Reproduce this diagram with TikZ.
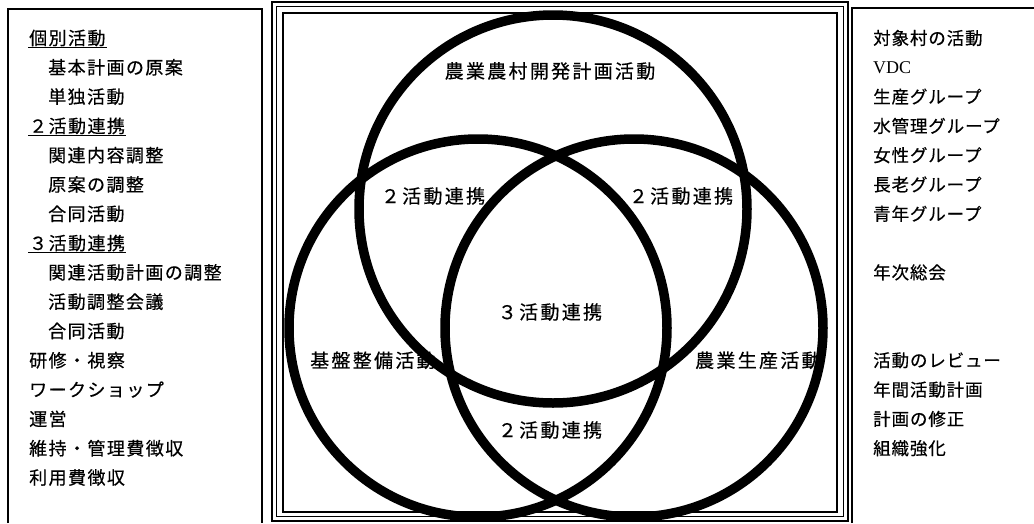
\documentclass[tikz,border=0pt]{standalone}
\usepackage{fontspec}
\setmainfont{Liberation Serif}
\newfontfamily\jpleft[LetterSpace=8,FakeBold=0.5]{Noto Sans CJK JP}
\newfontfamily\jpmid[LetterSpace=12,FakeBold=0.5]{Noto Sans CJK JP}
\newfontfamily\jpright[LetterSpace=5,FakeBold=0.5]{Noto Sans CJK JP}

\begin{document}
\begin{tikzpicture}[x=1pt, y=-1pt,
    item/.style={anchor=west, inner sep=1pt, font=\jpleft\fontsize{18}{18}\selectfont},
    grp/.style={anchor=west, inner sep=1pt, font=\jpright\fontsize{17.5}{18}\selectfont},
    area/.style={inner sep=1pt, font=\jpmid\fontsize{19}{19}\selectfont},
    ring/.style={line width=9.5pt, black},
    uline/.style={line width=1.4pt}]
    \useasboundingbox (0,0) rectangle (1034,523);

    % Marcos
    \draw[line width=1.3pt] (8,523) -- (8,9) -- (262,9) -- (262,523);
    \draw[line width=2.5pt] (272,2) rectangle (848,521);
    \draw[line width=1.2pt] (276.5,6.5) rectangle (843.5,516.5);
    \draw[line width=1.2pt] (283,13) rectangle (837,512);
    \draw[line width=1.3pt] (852,523) -- (852,8) -- (1034,8);

    % Lista izquierda
    \node[item] (L_ind) at (28,38) {個別活動};
    \node[item] (L_plan) at (47,67.3) {基本計画の原案};
    \node[item] (L_solo) at (47,96.6) {単独活動};
    \node[item] (L_two) at (28,125.9) {２活動連携};
    \node[item] (L_adj) at (47,155.2) {関連内容調整};
    \node[item] (L_draft) at (47,184.5) {原案の調整};
    \node[item] (L_joint) at (47,213.8) {合同活動};
    \node[item] (L_three) at (28,243.1) {３活動連携};
    \node[item] (L_coord) at (47,272.4) {関連活動計画の調整};
    \node[item] (L_meet) at (47,301.7) {活動調整会議};
    \node[item] (L_joint2) at (47,331) {合同活動};
    \node[item] (L_train) at (28,360.3) {研修・視察};
    \node[item] (L_ws) at (28,389.6) {ワークショップ};
    \node[item] (L_run) at (28,418.9) {運営};
    \node[item] (L_fee) at (28,448.2) {維持・管理費徴収};
    \node[item] (L_use) at (28,477.5) {利用費徴収};

    % Subrayados
    \draw[uline] (L_ind.south west) -- (L_ind.south east);
    \draw[uline] (L_two.south west) -- (L_two.south east);
    \draw[uline] (L_three.south west) -- (L_three.south east);

    % Lista derecha
    \node[grp] (R_vil) at (872,38) {対象村の活動};
    \node[grp, font=\fontsize{18}{18}\selectfont] (R_vdc) at (872,67.3) {VDC};
    \node[grp] (R_prod) at (872,96.6) {生産グループ};
    \node[grp] (R_water) at (872,125.9) {水管理グループ};
    \node[grp] (R_women) at (872,155.2) {女性グループ};
    \node[grp] (R_elder) at (872,184.5) {長老グループ};
    \node[grp] (R_youth) at (872,213.8) {青年グループ};
    \node[grp] (R_annual) at (872,272.4) {年次総会};
    \node[grp] (R_review) at (872,360.3) {活動のレビュー};
    \node[grp] (R_year) at (872,389.6) {年間活動計画};
    \node[grp] (R_fix) at (872,418.9) {計画の修正};
    \node[grp] (R_org) at (872,448.2) {組織強化};

    % Textos del diagrama
    \node[area] (A_plan) at (550,71) {農業農村開発計画活動};
    \node[area] (A_two_l) at (433,196) {２活動連携};
    \node[area] (A_two_r) at (681,196) {２活動連携};
    \node[area] (A_three) at (550,312) {３活動連携};
    \node[area, anchor=west] (A_base) at (309,360.3) {基盤整備活動};
    \node[area, anchor=west] (A_farm) at (694,360.3) {農業生産活動};
    \node[area] (A_two_b) at (550,430) {２活動連携};

    % Circulos
    \coordinate (C_top) at (553,209);
    \coordinate (C_left) at (478,328);
    \coordinate (C_right) at (634,328);
    \draw[ring] (C_top) circle (194pt);
    \draw[ring] (C_left) circle (189pt);
    \draw[ring] (C_right) circle (189pt);
\end{tikzpicture}
\end{document}
